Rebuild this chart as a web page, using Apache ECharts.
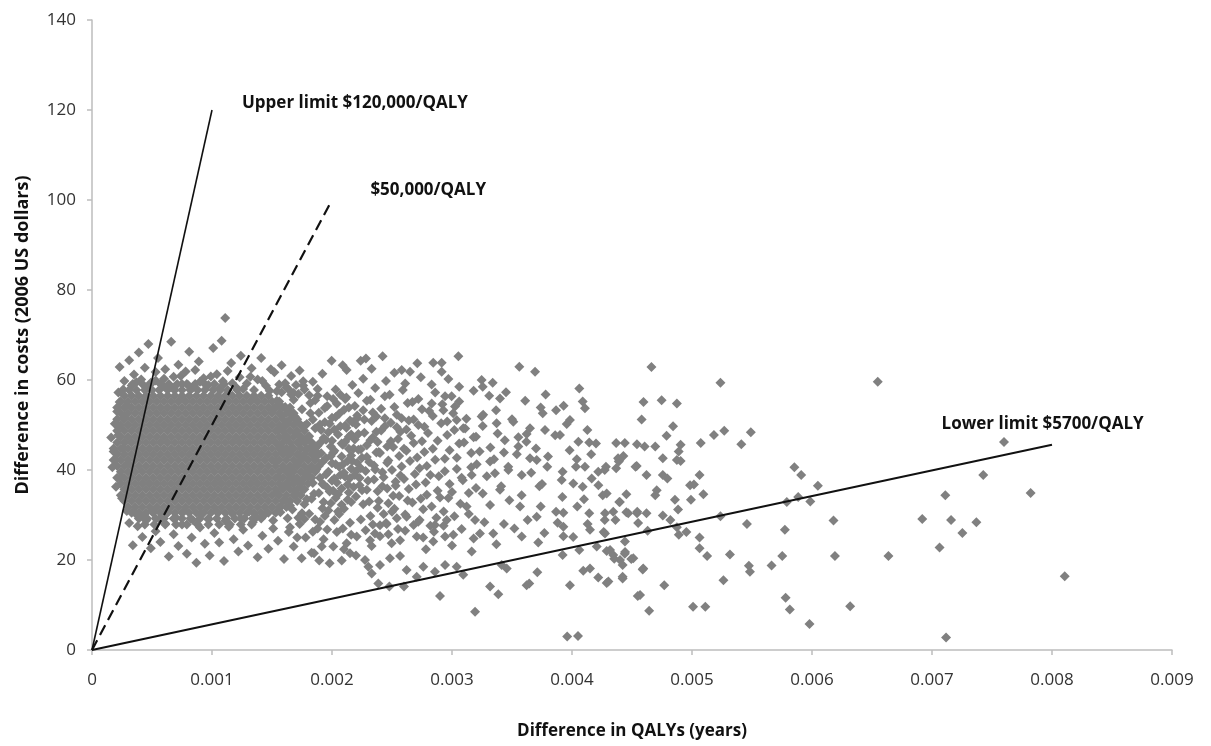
<!DOCTYPE html>
<html>
<head>
<meta charset="utf-8">
<title>Cost-effectiveness plane</title>
<script src="https://cdn.jsdelivr.net/npm/echarts@6/dist/echarts.min.js"></script>
<style>
  html, body { margin: 0; padding: 0; background: #fff; }
  #main { width: 1211px; height: 746px; }
</style>
</head>
<body>
<div id="main"></div>
<script>
// x = difference in QALYs (years), y = difference in costs (2006 US dollars)
var xTicks = [0, 0.001, 0.002, 0.003, 0.004, 0.005, 0.006, 0.007, 0.008, 0.009];
var yTicks = [0, 20, 40, 60, 80, 100, 120, 140];

// dense core of the cloud, one row per cost level
var coreRowY = [59.1, 57.8, 56.5, 55.2, 53.9, 52.6, 51.3, 50.0, 48.7, 47.4, 46.1, 44.8, 43.5,
  42.2, 40.9, 39.6, 38.3, 37.0, 35.7, 34.4, 33.1, 31.8, 30.5, 29.2, 27.9];
var coreRowX = [
  [0.00034,0.00042,0.00049,0.00057,0.00064,0.00071,0.00079,0.00086,0.00094,0.00102,0.0011],
  [0.00031,0.00037,0.00044,0.0005,0.00056,0.00063,0.00069,0.00075,0.00082,0.00088,0.00094,0.00101,0.00107,0.00113,0.00121],
  [0.00027,0.00033,0.00039,0.00045,0.00051,0.00057,0.00063,0.00069,0.00075,0.00081,0.00087,0.00093,0.00099,0.00105,0.00111,0.00117,0.00123,0.00129,0.00135,0.00141,0.00147],
  [0.00024,0.0003,0.00036,0.00042,0.00048,0.00054,0.0006,0.00066,0.00072,0.00078,0.00084,0.0009,0.00096,0.00102,0.00108,0.00114,0.0012,0.00126,0.00132,0.00138,0.00144,0.0015,0.00156],
  [0.00021,0.00027,0.00033,0.00039,0.00045,0.00051,0.00057,0.00063,0.00069,0.00075,0.00081,0.00087,0.00093,0.00099,0.00105,0.00111,0.00117,0.00123,0.00129,0.00135,0.00141,0.00147,0.00153,0.00159,0.00165],
  [0.00024,0.0003,0.00036,0.00042,0.00048,0.00054,0.0006,0.00066,0.00072,0.00078,0.00084,0.0009,0.00096,0.00102,0.00108,0.00114,0.0012,0.00126,0.00132,0.00138,0.00144,0.0015,0.00156,0.00162,0.00168],
  [0.00021,0.00027,0.00033,0.00039,0.00045,0.00051,0.00057,0.00063,0.00069,0.00075,0.00081,0.00087,0.00093,0.00099,0.00105,0.00111,0.00117,0.00123,0.00129,0.00135,0.00141,0.00147,0.00153,0.00159,0.00165,0.00171],
  [0.00024,0.0003,0.00036,0.00042,0.00048,0.00054,0.0006,0.00066,0.00072,0.00078,0.00084,0.0009,0.00096,0.00102,0.00108,0.00114,0.0012,0.00126,0.00132,0.00138,0.00144,0.0015,0.00156,0.00162,0.00168,0.00174],
  [0.00021,0.00027,0.00033,0.00039,0.00045,0.00051,0.00057,0.00063,0.00069,0.00075,0.00081,0.00087,0.00093,0.00099,0.00105,0.00111,0.00117,0.00123,0.00129,0.00135,0.00141,0.00147,0.00153,0.00159,0.00165,0.00171,0.00177],
  [0.00024,0.0003,0.00036,0.00042,0.00048,0.00054,0.0006,0.00066,0.00072,0.00078,0.00084,0.0009,0.00096,0.00102,0.00108,0.00114,0.0012,0.00126,0.00132,0.00138,0.00144,0.0015,0.00156,0.00162,0.00168,0.00174,0.0018],
  [0.00021,0.00027,0.00033,0.00039,0.00045,0.00051,0.00057,0.00063,0.00069,0.00075,0.00081,0.00087,0.00093,0.00099,0.00105,0.00111,0.00117,0.00123,0.00129,0.00135,0.00141,0.00147,0.00153,0.00159,0.00165,0.00171,0.00177,0.00183],
  [0.00018,0.00024,0.0003,0.00036,0.00042,0.00048,0.00054,0.0006,0.00066,0.00072,0.00078,0.00084,0.0009,0.00096,0.00102,0.00108,0.00114,0.0012,0.00126,0.00132,0.00138,0.00144,0.0015,0.00156,0.00162,0.00168,0.00174,0.0018,0.00186],
  [0.00021,0.00027,0.00033,0.00039,0.00045,0.00051,0.00057,0.00063,0.00069,0.00075,0.00081,0.00087,0.00093,0.00099,0.00105,0.00111,0.00117,0.00123,0.00129,0.00135,0.00141,0.00147,0.00153,0.00159,0.00165,0.00171,0.00177,0.00183,0.00189],
  [0.00018,0.00024,0.0003,0.00036,0.00042,0.00048,0.00054,0.0006,0.00066,0.00072,0.00078,0.00084,0.0009,0.00096,0.00102,0.00108,0.00114,0.0012,0.00126,0.00132,0.00138,0.00144,0.0015,0.00156,0.00162,0.00168,0.00174,0.0018,0.00186],
  [0.00021,0.00027,0.00033,0.00039,0.00045,0.00051,0.00057,0.00063,0.00069,0.00075,0.00081,0.00087,0.00093,0.00099,0.00105,0.00111,0.00117,0.00123,0.00129,0.00135,0.00141,0.00147,0.00153,0.00159,0.00165,0.00171,0.00177,0.00183,0.00189],
  [0.00024,0.0003,0.00036,0.00042,0.00048,0.00054,0.0006,0.00066,0.00072,0.00078,0.00084,0.0009,0.00096,0.00102,0.00108,0.00114,0.0012,0.00126,0.00132,0.00138,0.00144,0.0015,0.00156,0.00162,0.00168,0.00174,0.0018,0.00186],
  [0.00021,0.00027,0.00033,0.00039,0.00045,0.00051,0.00057,0.00063,0.00069,0.00075,0.00081,0.00087,0.00093,0.00099,0.00105,0.00111,0.00117,0.00123,0.00129,0.00135,0.00141,0.00147,0.00153,0.00159,0.00165,0.00171,0.00177,0.00183],
  [0.00024,0.0003,0.00036,0.00042,0.00048,0.00054,0.0006,0.00066,0.00072,0.00078,0.00084,0.0009,0.00096,0.00102,0.00108,0.00114,0.0012,0.00126,0.00132,0.00138,0.00144,0.0015,0.00156,0.00162,0.00168,0.00174,0.0018],
  [0.00027,0.00033,0.00039,0.00045,0.00051,0.00057,0.00063,0.00069,0.00075,0.00081,0.00087,0.00093,0.00099,0.00105,0.00111,0.00117,0.00123,0.00129,0.00135,0.00141,0.00147,0.00153,0.00159,0.00165,0.00171,0.00177],
  [0.00024,0.0003,0.00036,0.00042,0.00048,0.00054,0.0006,0.00066,0.00072,0.00078,0.00084,0.0009,0.00096,0.00102,0.00108,0.00114,0.0012,0.00126,0.00132,0.00138,0.00144,0.0015,0.00156,0.00162,0.00168,0.00174],
  [0.00027,0.00033,0.00039,0.00045,0.00051,0.00057,0.00063,0.00069,0.00075,0.00081,0.00087,0.00093,0.00099,0.00105,0.00111,0.00117,0.00123,0.00129,0.00135,0.00141,0.00147,0.00153,0.00159,0.00165,0.00171],
  [0.0003,0.00036,0.00042,0.00048,0.00054,0.0006,0.00066,0.00072,0.00078,0.00084,0.0009,0.00096,0.00102,0.00108,0.00114,0.0012,0.00126,0.00132,0.00138,0.00144,0.0015,0.00156,0.00162],
  [0.00033,0.00039,0.00045,0.00051,0.00057,0.00063,0.00069,0.00075,0.00081,0.00087,0.00093,0.00099,0.00105,0.00111,0.00117,0.00123,0.00129,0.00135,0.00141,0.00147,0.00153],
  [0.00039,0.00046,0.00053,0.0006,0.00068,0.00075,0.00082,0.0009,0.00097,0.00104,0.00112,0.00119,0.00127,0.00134,0.00141],
  [0.00044,0.00052,0.00061,0.0007,0.00079,0.00088,0.00097,0.00106,0.00115,0.00124,0.00133]
];

// edges of the core
var fringePts = [
  [0.00022,57.2],[0.00027,59.8],[0.00023,62.9],[0.00031,64.4],[0.00039,66.1],[0.00047,68.0],[0.00055,64.9],[0.00066,68.5],
  [0.00072,63.4],[0.00081,66.3],[0.00089,64.1],[0.00101,67.1],[0.00108,68.7],[0.00111,73.8],[0.00116,63.8],[0.00124,65.4],
  [0.00133,62.6],[0.00141,64.9],[0.00152,61.7],[0.00158,63.3],[0.00166,60.9],[0.00173,62.1],[0.00184,59.6],[0.00192,61.4],
  [0.00026,57.9],[0.00033,58.8],[0.00035,61.2],[0.00041,60.1],[0.00044,62.7],[0.00049,59.4],[0.00053,61.8],[0.00059,58.6],
  [0.00061,62.4],[0.00068,60.7],[0.00075,59.1],[0.00078,61.9],[0.00084,58.3],[0.00086,62.2],[0.00093,60.4],[0.00097,58.9],
  [0.00104,61.3],[0.00109,59.7],[0.00113,62.0],[0.0012,58.4],[0.00123,60.6],[0.00129,59.2],[0.00135,57.8],[0.00138,60.1],
  [0.00145,58.7],[0.00149,62.4],[0.00154,57.5],[0.00161,59.3],[0.00168,57.1],[0.00176,58.8],[0.00181,56.6],[0.00188,58.0],
  [0.00196,56.4],[0.00203,57.9],[0.00211,55.8],[0.00217,58.9],
  [0.00037,59.5],[0.00046,58.3],[0.00053,59.9],[0.0006,60.3],[0.00067,58.2],[0.00074,60.9],[0.0008,58.9],[0.0009,59.6],
  [0.00099,60.8],[0.00106,58.1],[0.00117,59.3],[0.00126,58.0],[0.00132,60.7],[0.00142,59.8],[0.00148,57.6],[0.00156,59.0],
  [0.00164,57.9],[0.0017,58.9],
  [0.00016,47.2],[0.00018,44.1],[0.00019,50.3],[0.00017,40.6],[0.0002,36.3],[0.00021,53.0],[0.00019,42.2],[0.00022,47.8],
  [0.00024,38.4],[0.00025,33.7],[0.00026,44.9],[0.00027,51.6],[0.00028,35.8],[0.00029,30.9],[0.0003,41.5],[0.00023,55.1],
  [0.00029,54.4],[0.00031,28.2],[0.00022,49.6],
  [0.00034,23.3],[0.00038,27.5],[0.00042,25.1],[0.00045,28.8],[0.00049,22.6],[0.00053,26.4],[0.00057,24.0],[0.00061,28.1],
  [0.00064,20.8],[0.00068,25.7],[0.00072,23.1],[0.00075,27.9],[0.00079,21.4],[0.00083,25.0],[0.00087,19.4],[0.0009,27.2],
  [0.00094,23.6],[0.00098,21.0],[0.00102,26.0],[0.00106,23.9],[0.0011,19.8],[0.00114,27.4],[0.00118,24.6],[0.00122,21.9],
  [0.00126,26.7],[0.0013,23.2],[0.00134,28.4],[0.00138,20.6],[0.00142,25.4],[0.00147,22.5],[0.00151,27.0],[0.00155,24.3],
  [0.0016,20.2],[0.00164,26.2],[0.00168,23.0],[0.00173,28.0],[0.00178,25.0],[0.00183,21.6],[0.00188,27.0],[0.00193,24.6],
  [0.00198,19.3],[0.00204,26.2],[0.0021,22.4],[0.00215,28.3],[0.0022,21.0],
  [0.00036,30.4],[0.00043,29.6],[0.0005,30.8],[0.00056,29.1],[0.00063,30.6],[0.0007,29.4],[0.00077,30.9],[0.00084,28.9],
  [0.00091,30.2],[0.00097,29.0],[0.00104,30.7],[0.00111,28.7],[0.00117,30.3],[0.00124,29.2],[0.00131,30.8],[0.00137,29.5],
  [0.00144,30.1],[0.00151,28.8],[0.00157,30.6],[0.00163,29.3]
];

// right shoulder of the cloud, 0.0015 to 0.0026
var shoulderPts = [
  [0.00154,55.4],[0.00158,52.1],[0.00155,48.7],[0.00157,45.3],[0.00153,41.9],[0.00156,38.4],[0.00154,35.0],[0.00157,31.7],
  [0.00161,54.0],[0.00163,50.4],[0.00162,46.9],[0.00164,43.6],[0.0016,40.2],[0.00163,36.7],[0.00161,33.3],
  [0.00168,55.6],[0.00169,51.9],[0.0017,48.3],[0.00167,44.9],[0.00171,41.4],[0.00168,38.0],[0.0017,34.6],[0.00167,31.2],
  [0.00175,53.5],[0.00177,49.8],[0.00174,46.2],[0.00176,42.7],[0.00178,39.2],[0.00175,35.8],[0.00177,32.4],
  [0.00182,54.9],[0.00184,51.2],[0.00181,47.5],[0.00185,44.0],[0.00182,40.5],[0.00184,37.1],[0.00183,33.6],[0.00181,30.3],
  [0.00189,52.7],[0.00191,48.9],[0.00188,45.4],[0.00192,41.8],[0.0019,38.3],[0.00189,34.9],[0.00192,31.5],
  [0.00196,54.2],[0.00198,50.3],[0.00195,46.7],[0.00199,43.1],[0.00197,39.6],[0.00196,36.1],[0.00199,32.6],
  [0.00203,51.8],[0.00205,47.9],[0.00202,44.3],[0.00206,40.7],[0.00204,37.2],[0.00203,33.8],[0.00206,30.2],
  [0.0021,53.4],[0.00212,49.4],[0.00209,45.6],[0.00213,42.0],[0.00211,38.5],[0.00214,35.0],[0.0021,31.4],
  [0.00217,50.6],[0.00219,46.8],[0.00216,43.2],[0.0022,39.7],[0.00218,36.2],[0.00216,32.9],
  [0.00151,53.6],[0.00158,57.3],[0.00165,52.8],[0.00172,56.9],[0.00179,50.2],[0.00186,55.5],[0.00193,47.1],[0.00201,55.8],
  [0.00208,43.0],[0.00159,43.9],[0.00166,40.6],[0.00173,37.4],[0.00179,44.6],[0.00186,42.3],[0.00193,36.8],[0.002,41.5],
  [0.00207,38.9],[0.00214,44.7],[0.00159,36.0],[0.00165,32.1],[0.00172,29.4],[0.00179,33.5],[0.00186,29.0],[0.00194,29.8],
  [0.00201,35.4],[0.00208,32.3],[0.00215,38.2],[0.00221,41.6],[0.00162,58.4],[0.00176,59.7],[0.00159,49.6],[0.00172,46.1],
  [0.00186,49.3],[0.002,46.5],[0.00214,47.4],[0.00221,52.1],[0.00207,56.7],
  [0.00157,54.1],[0.00161,47.6],[0.00164,39.1],[0.00166,56.8],[0.00169,35.3],[0.00171,50.8],[0.00173,43.2],[0.00175,30.4],
  [0.00177,57.9],[0.00179,47.0],[0.0018,38.7],[0.00182,52.6],[0.00183,45.1],[0.00185,34.7],[0.00187,40.1],[0.00188,56.5],
  [0.0019,50.1],[0.00191,43.7],[0.00193,32.9],[0.00194,53.8],[0.00195,39.0],[0.00197,48.4],[0.00198,35.2],[0.002,51.6],
  [0.00201,43.9],[0.00202,38.1],[0.00204,54.7],[0.00205,30.8],[0.00207,49.7],[0.00208,35.9],[0.00209,41.2],[0.00211,46.3],
  [0.00212,56.1],[0.00213,33.4],[0.00215,51.0],[0.00216,40.3],[0.00218,44.8],[0.00219,54.2],[0.0022,34.1],[0.00222,48.0],
  [0.00223,36.6],[0.00225,42.7],[0.00226,53.3],[0.00228,39.8],[0.00229,45.5],[0.00231,33.0],[0.00232,55.6],[0.00234,47.2],
  [0.00235,41.0],[0.00237,51.9],[0.00238,35.3],[0.0024,43.8],[0.00241,48.8],[0.00243,38.4],[0.00244,56.4],[0.00246,45.2],
  [0.00247,32.6],[0.00249,50.5],[0.0025,40.0],
  [0.0019,46.0],[0.00192,36.9],[0.00194,50.6],[0.00195,42.6],[0.00197,31.0],[0.00199,45.2],[0.002,37.6],[0.00202,49.0],
  [0.00203,41.3],[0.00205,34.6],[0.00206,52.5],[0.00208,45.9],[0.0021,39.4],[0.00211,49.9],[0.00213,36.8],[0.00214,53.9],
  [0.00216,47.9],[0.00217,42.0],[0.00219,38.9],[0.0022,50.1],[0.00222,44.5],[0.00224,40.4],[0.00225,35.5],[0.00227,51.2],
  [0.00229,42.9],[0.0023,37.6],[0.00232,46.6],[0.00234,52.8],[0.00236,40.1],[0.00237,48.5],[0.00239,44.0],[0.00242,36.4],
  [0.00244,51.5],[0.00246,41.6],[0.00249,46.4],[0.00251,34.3],[0.00254,49.5],[0.00257,38.8],[0.0026,44.7],[0.00264,51.0]
];

// middle band, 0.0022 to 0.0042
var middlePts = [
  [0.00222,57.1],[0.00229,55.4],[0.00236,58.2],[0.00241,53.6],[0.00248,56.7],[0.00254,52.3],[0.00259,57.8],[0.00263,54.9],
  [0.00268,51.2],[0.00272,55.8],[0.00277,49.6],[0.00281,53.1],[0.00286,57.2],[0.00291,50.4],[0.00296,47.8],[0.00301,52.6],
  [0.00306,45.9],[0.00311,49.2],[0.00316,43.8],[0.00221,51.5],[0.00227,48.3],[0.00233,50.9],[0.00238,46.2],[0.00244,49.7],
  [0.00251,45.1],[0.00257,48.5],[0.00262,44.3],[0.00266,47.6],[0.00271,42.8],[0.00275,46.4],[0.00279,40.9],[0.00284,44.7],
  [0.00289,38.6],[0.00294,42.5],[0.00298,36.9],[0.00304,40.2],[0.00309,37.7],[0.00314,34.9],[0.00224,44.6],[0.00231,41.8],
  [0.00237,43.9],[0.00242,39.5],[0.00247,42.1],[0.00253,37.4],[0.00258,40.8],[0.00264,35.8],[0.00269,39.1],[0.00274,33.6],
  [0.00278,37.2],[0.00283,31.9],[0.00288,35.4],[0.00293,30.8],[0.00297,33.8],[0.00302,29.7],[0.00307,32.5],[0.00223,38.2],
  [0.00229,35.6],[0.00235,37.9],[0.00239,33.1],[0.00246,35.9],[0.00252,31.4],[0.00256,34.2],[0.00261,30.1],[0.00267,32.8],
  [0.00273,28.9],[0.00276,31.3],[0.00282,27.6],[0.00287,29.4],[0.00226,32.4],[0.00232,29.8],[0.00238,31.6],[0.00245,28.2],
  [0.0025,30.7],[0.00255,26.9],[0.00228,26.6],[0.00234,27.9],[0.0024,25.3],[0.00243,30.2],
  [0.00252,54.0],[0.00253,36.5],[0.00255,46.9],[0.00256,43.1],[0.00258,51.5],[0.0026,38.0],[0.00262,49.0],[0.00263,33.2],
  [0.00265,42.0],[0.00267,55.1],[0.00268,46.0],[0.0027,36.8],[0.00272,50.0],[0.00273,40.4],[0.00275,53.5],[0.00277,44.0],
  [0.00279,34.5],[0.0028,48.2],[0.00282,38.9],[0.00284,52.0],[0.00286,42.3],[0.00288,46.5],[0.0029,33.9],[0.00292,54.6],
  [0.00294,39.7],[0.00296,50.8],[0.00298,44.4],[0.003,35.1],[0.00302,48.9],[0.00304,42.7],[0.00306,55.2],[0.00308,38.3],
  [0.0031,46.1],[0.00312,51.4],[0.00314,30.2],[0.00316,40.6],[0.00318,47.3],[0.0032,36.0],[0.00323,44.1],[0.00326,52.3],
  [0.00329,38.6],[0.00332,45.0],[0.00335,42.4],[0.00338,48.1],[0.00341,36.4],[0.00344,46.6],[0.00347,40.0],[0.0035,51.3],
  [0.00354,43.5],[0.00358,34.4],[0.00362,46.3],[0.00366,39.4],[0.0037,44.8],[0.00375,36.9],[0.0038,43.0],[0.00386,47.7],
  [0.00392,34.0],[0.00398,44.4],[0.00404,42.4],[0.0041,33.5],[0.00416,43.5],[0.00422,36.6],
  [0.00165,27.3],[0.00171,25.0],[0.00177,29.1],[0.00184,26.3],[0.0019,28.5],[0.00196,26.8],[0.00202,28.9],[0.00209,27.0],
  [0.00216,25.6],[0.00224,29.0],[0.00233,23.1],[0.0024,27.7],[0.00247,25.7],[0.00254,29.3],[0.00261,26.5],[0.00268,27.8],
  [0.00276,25.0],[0.00285,26.3],[0.00293,27.6],[0.003,23.2],[0.00308,26.9],[0.00318,24.8],[0.00327,28.4],[0.00337,23.5],
  [0.00352,27.0],[0.00363,28.9],[0.00377,26.0],[0.00388,28.3],[0.00401,25.1],[0.00413,28.0],
  [0.00226,60.3],[0.00233,62.5],[0.00245,59.8],[0.00252,61.6],[0.00261,59.2],[0.00274,60.6],[0.00283,59.0],[0.00297,60.2],
  [0.00306,58.5],[0.00318,57.6],[0.00331,56.5],[0.00345,57.3],[0.00361,55.4],[0.00378,56.8],[0.00393,54.3]
];

// sparse tail towards larger QALY gains
var tailPts = [
  [0.003053,65.3],[0.003561,62.96],[0.003692,61.85],[0.002422,65.3],[0.002283,64.8],[0.002239,64.3],[0.001997,64.3],
  [0.002089,63.3],[0.002122,62.2],[0.002844,63.85],[0.002914,63.85],[0.002914,61.85],[0.002711,63.7],[0.002581,62.2],
  [0.00265,61.85],[0.003247,60.0],[0.003339,59.4],[0.003256,58.5],[0.004061,58.1],[0.004089,55.2],[0.004108,53.7],
  [0.003867,53.3],[0.003739,53.9],[0.003756,52.6],[0.003983,51.1],[0.003956,50.2],[0.004128,48.9],[0.003775,48.9],
  [0.00365,49.3],[0.003622,48.0],[0.003553,47.3],[0.003511,50.7],[0.0034,55.9],[0.003367,53.3],[0.003372,50.4],
  [0.003247,51.9],[0.003256,49.8],[0.0032,47.4],[0.002942,56.4],[0.002997,56.4],[0.002831,54.8],[0.002928,53.3],
  [0.003025,54.1],[0.003039,51.1],[0.003094,49.3],[0.0039,47.8],[0.004053,46.3],[0.004144,46.1],[0.0042,45.9],
  [0.004428,43.1],[0.004394,42.2],[0.004539,40.9],[0.004283,40.7],[0.004219,39.6],[0.004108,40.7],[0.004033,40.7],
  [0.003922,39.6],[0.003794,40.7],[0.003706,42.2],[0.00365,42.6],[0.003553,45.2],[0.003433,43.9],[0.003469,40.7],
  [0.003358,39.3],[0.003317,41.9],[0.003206,41.3],[0.003164,38.9],[0.003581,38.9],[0.003728,36.4],[0.003914,37.8],
  [0.004011,37.0],[0.004089,36.3],[0.004164,38.1],[0.004256,34.4],[0.004394,32.9],[0.004544,30.7],[0.004469,30.4],
  [0.004344,30.7],[0.004275,30.4],[0.004144,30.4],[0.004044,31.9],[0.003928,30.5],[0.003867,30.7],[0.003739,31.9],
  [0.003706,29.6],[0.003567,31.9],[0.003478,33.3],[0.0034,35.6],[0.003317,32.2],[0.003256,34.8],[0.003192,28.9],
  [0.003122,31.9],[0.003233,25.9],[0.003344,25.9],[0.003433,28.0],[0.003581,25.2],[0.003719,23.9],[0.003928,27.4],
  [0.003928,25.3],[0.003922,21.1],[0.004061,22.2],[0.00415,26.7],[0.004206,23.0],[0.004317,22.2],[0.004442,21.8],
  [0.004511,20.4],[0.0044,20.0],[0.004344,21.1],[0.004275,25.9],[0.00415,18.1],[0.004094,17.6],[0.004219,16.1],
  [0.004303,15.2],[0.004422,16.3],[0.004594,18.1],[0.004567,12.2],[0.003983,14.4],[0.003711,17.3],[0.003644,14.8],
  [0.003622,14.4],[0.003456,18.1],[0.003414,18.9],[0.003317,14.1],[0.003386,12.4],[0.003192,8.5],[0.0029,12.0],
  [0.003094,16.7],[0.003164,21.9],[0.003039,18.5],[0.002942,18.9],[0.002858,17.4],[0.002761,18.5],[0.002706,16.3],
  [0.002622,17.8],[0.002567,20.9],[0.002483,20.4],[0.002478,14.1],[0.002386,14.8],[0.0026,14.1],[0.0024,18.9],
  [0.002303,18.5],[0.002331,17.0],[0.002275,20.0],[0.002081,19.9],[0.001894,19.9],[0.00185,21.5],[0.001914,23.0],
  [0.001747,20.4],[0.002567,24.4],[0.002497,23.7],[0.002706,25.2],[0.002783,22.4],[0.002844,24.1],[0.002942,25.2],
  [0.003011,25.6],[0.002858,27.8],[0.002956,28.9],[0.002719,28.5],[0.002622,29.6],[0.002456,28.0],[0.002358,25.9],
  [0.002317,24.4],[0.002206,25.2],[0.00215,21.5],[0.002011,23.0],[0.002122,23.7],[0.00396,3.0],[0.00405,3.1],
  [0.004662,62.9],[0.005237,59.4],[0.006548,59.6],[0.004596,55.1],[0.004747,55.5],[0.004874,54.8],[0.00458,51.2],
  [0.004842,49.7],[0.004788,47.6],[0.005183,47.8],[0.005269,48.7],[0.00549,48.4],[0.005411,45.7],[0.005073,46.0],
  [0.004368,46.0],[0.00444,46.0],[0.004541,45.7],[0.004605,45.2],[0.004694,45.2],[0.004905,45.6],[0.004889,44.1],
  [0.004874,42.2],[0.004905,42.0],[0.004757,42.6],[0.004384,42.6],[0.00439,41.9],[0.0076,46.2],[0.004529,40.7],
  [0.004621,38.9],[0.004757,38.9],[0.004795,38.1],[0.004368,40.4],[0.004273,40.0],[0.005063,38.9],[0.004984,36.6],
  [0.005016,36.8],[0.005095,34.6],[0.004991,33.4],[0.004706,35.5],[0.004694,34.4],[0.004453,34.6],[0.004289,34.8],
  [0.004399,32.9],[0.004858,33.4],[0.004884,31.2],[0.005853,40.6],[0.00591,38.9],[0.006049,36.5],[0.007427,38.9],
  [0.007111,34.4],[0.007822,34.9],[0.005885,34.0],[0.00579,32.9],[0.005986,33.0],[0.004542,30.4],[0.004453,30.6],
  [0.004621,30.4],[0.004757,29.9],[0.00482,28.9],[0.004551,28.2],[0.004362,28.9],[0.004273,28.9],[0.005237,29.7],
  [0.006179,28.8],[0.006919,29.1],[0.007159,28.9],[0.00737,28.4],[0.007253,26.0],[0.005458,28.0],[0.005774,26.7],
  [0.004874,27.3],[0.004953,26.2],[0.00489,25.6],[0.00463,26.5],[0.004264,26.2],[0.004441,24.1],[0.005063,25.0],
  [0.007063,22.8],[0.004289,22.0],[0.00444,21.4],[0.004352,20.3],[0.004494,20.2],[0.004422,18.9],[0.004589,17.9],
  [0.005063,22.6],[0.005126,20.9],[0.005316,21.2],[0.005474,18.7],[0.005483,17.4],[0.005663,18.8],[0.005752,20.9],
  [0.006191,20.9],[0.006637,20.9],[0.004289,14.9],[0.004422,15.9],[0.004769,14.4],[0.005262,15.5],[0.008106,16.4],
  [0.004548,12.0],[0.004643,8.7],[0.005009,9.6],[0.005111,9.6],[0.00578,11.6],[0.005815,9.0],[0.006318,9.7],
  [0.005979,5.8],[0.007117,2.8]
];

// threshold lines through the origin
var thresholdNames = ['Upper limit $120,000/QALY', '$50,000/QALY', 'Lower limit $5700/QALY'];
var thresholdEnds = [[0.001, 120], [0.002, 100], [0.008, 45.6]];
var thresholdLabelAt = [[0.00125, 121.6], [0.00232, 102.2], [0.00708, 50.2]];

var scatterData = [];
coreRowY.forEach(function (y, i) {
  coreRowX[i].forEach(function (x) { scatterData.push([x, y]); });
});
scatterData = scatterData.concat(fringePts, shoulderPts, middlePts, tailPts);

var FONT = '"Open Sans", Lato, sans-serif';
var AXIS_GREY = '#bdbdbd';

var chart = echarts.init(document.getElementById('main'));

var lineStyles = [
  { color: '#111', width: 1.6, type: 'solid' },
  { color: '#111', width: 2.2, type: [11, 6] },
  { color: '#111', width: 2, type: 'solid' }
];

var series = [{
  name: 'simulations',
  type: 'scatter',
  symbol: 'diamond',
  symbolSize: 10,
  itemStyle: { color: '#808080', opacity: 1 },
  data: scatterData,
  z: 2,
  silent: true
}];
thresholdNames.forEach(function (name, i) {
  series.push({
    name: name,
    type: 'line',
    data: [[0, 0], thresholdEnds[i]],
    symbol: 'none',
    lineStyle: lineStyles[i],
    z: 5,
    silent: true
  });
});

chart.setOption({
  animation: false,
  backgroundColor: '#fff',
  grid: { left: 92, right: 39, top: 20, bottom: 96 },
  xAxis: {
    type: 'value',
    min: xTicks[0],
    max: xTicks[xTicks.length - 1],
    interval: 0.001,
    name: 'Difference in QALYs (years)',
    nameLocation: 'middle',
    nameGap: 73,
    nameTextStyle: { fontFamily: FONT, fontWeight: 'bold', fontSize: 17, color: '#111' },
    axisLine: { lineStyle: { color: AXIS_GREY, width: 1.5 } },
    axisTick: { show: true, length: 5, lineStyle: { color: AXIS_GREY, width: 1.5 } },
    axisLabel: {
      margin: 22,
      fontFamily: FONT,
      fontSize: 17,
      color: '#333',
      formatter: function (v) { return v === 0 ? '0' : v.toFixed(3); }
    },
    splitLine: { show: false }
  },
  yAxis: {
    type: 'value',
    min: yTicks[0],
    max: yTicks[yTicks.length - 1],
    interval: 20,
    name: 'Difference in costs (2006 US dollars)',
    nameLocation: 'middle',
    nameGap: 60,
    nameRotate: 90,
    nameTextStyle: { fontFamily: FONT, fontWeight: 'bold', fontSize: 18, color: '#111' },
    axisLine: { show: true, lineStyle: { color: AXIS_GREY, width: 1.5 } },
    axisTick: { show: true, length: 5, lineStyle: { color: AXIS_GREY, width: 1.5 } },
    axisLabel: { margin: 16, fontFamily: FONT, fontSize: 17, color: '#333' },
    splitLine: { show: false }
  },
  series: series
});

// labels next to the threshold lines, anchored in data coordinates
var labels = thresholdNames.map(function (name, i) {
  var p = chart.convertToPixel({ gridIndex: 0 }, thresholdLabelAt[i]);
  return {
    type: 'text',
    x: p[0],
    y: p[1],
    z: 10,
    style: {
      text: name,
      fontFamily: FONT,
      fontWeight: 'bold',
      fontSize: 17,
      fill: '#111',
      textAlign: 'left',
      textVerticalAlign: 'middle'
    }
  };
});
chart.setOption({ graphic: labels });
</script>
</body>
</html>
